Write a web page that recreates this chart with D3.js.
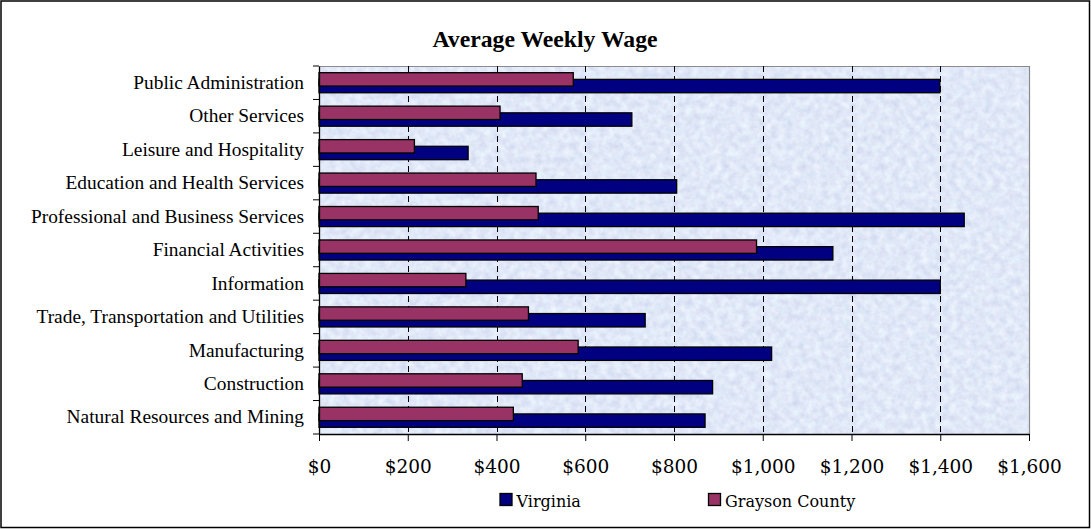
<!DOCTYPE html>
<html>
<head>
<meta charset="utf-8">
<script src="https://cdn.jsdelivr.net/npm/d3@7"></script>
<style>
  html, body { margin: 0; padding: 0; background: #ffffff; }
  svg { display: block; }
</style>
</head>
<body>
<svg id="chart" width="1091" height="529"></svg>
<script>
// Industry categories, listed top to bottom
const categories = [
  "Public Administration",
  "Other Services",
  "Leisure and Hospitality",
  "Education and Health Services",
  "Professional and Business Services",
  "Financial Activities",
  "Information",
  "Trade, Transportation and Utilities",
  "Manufacturing",
  "Construction",
  "Natural Resources and Mining"
];

// Average weekly wage, dollars
const virginia = [1399, 705, 336, 806, 1454, 1158, 1400, 735, 1020, 887, 870];
const grayson  = [573, 408, 215, 489, 494, 986, 331, 472, 584, 458, 438];

const xTicks = [0, 200, 400, 600, 800, 1000, 1200, 1400, 1600];
const seriesNames = ["Virginia", "Grayson County"];

const W = 1091, H = 529;
const plot = { left: 319, right: 1029, top: 66, bottom: 434 };
const colors = { virginia: "#000080", grayson: "#993366" };

const svg = d3.select("#chart");

// Outer frame
svg.append("rect")
  .attr("x", 1).attr("y", 1)
  .attr("width", W - 2.5).attr("height", H - 2.5)
  .attr("fill", "#ffffff").attr("stroke", "#000").attr("stroke-width", 1.5);

// Paper-like texture for the plot background
const defs = svg.append("defs");
const f = defs.append("filter").attr("id", "paper")
  .attr("x", 0).attr("y", 0).attr("width", 1).attr("height", 1)
  .attr("filterUnits", "objectBoundingBox")
  .attr("color-interpolation-filters", "sRGB");
f.append("feTurbulence")
  .attr("type", "fractalNoise").attr("baseFrequency", 0.14)
  .attr("numOctaves", 4).attr("seed", 7).attr("result", "noise");
f.append("feColorMatrix").attr("in", "noise").attr("type", "matrix")
  .attr("values",
    "0.15 0.05 0 0 0.78 " +
    "0.15 0 0 0 0.835 " +
    "0.08 0 0 0 0.93 " +
    "0 0 0 0 1")
  .attr("result", "tint");
f.append("feComposite").attr("in", "tint").attr("in2", "SourceAlpha").attr("operator", "in");

const x = d3.scaleLinear().domain([0, 1600]).range([plot.left, plot.right]);
const y = d3.scaleBand().domain(categories).range([plot.top, plot.bottom]).padding(0);
const bw = y.bandwidth();
const barH = bw / 2.5;   // 100% gap width, 50% overlap

svg.append("rect")
  .attr("x", plot.left).attr("y", plot.top)
  .attr("width", plot.right - plot.left).attr("height", plot.bottom - plot.top)
  .attr("fill", "#dde9f7").attr("filter", "url(#paper)");

// Plot area border (top / right)
svg.append("path")
  .attr("d", `M${plot.left},${plot.top + 0.5}H${plot.right + 0.5}V${plot.bottom}`)
  .attr("fill", "none").attr("stroke", "#8a8a8a").attr("stroke-width", 1.2);

// Dashed vertical gridlines
svg.append("g").selectAll("line")
  .data(xTicks.filter(d => d > 0 && d < 1600))
  .join("line")
  .attr("x1", d => Math.round(x(d)) + 0.5).attr("x2", d => Math.round(x(d)) + 0.5)
  .attr("y1", plot.top).attr("y2", plot.bottom)
  .attr("stroke", "#000").attr("stroke-width", 1)
  .attr("stroke-dasharray", "6,4");

// Bars: Virginia lower in each group, Grayson County above and drawn on top
const rows = categories.map((c, i) => ({ cat: c, va: virginia[i], gc: grayson[i] }));

svg.append("g").selectAll("rect")
  .data(rows).join("rect")
  .attr("x", x(0))
  .attr("y", d => y(d.cat) + barH)
  .attr("width", d => x(d.va) - x(0))
  .attr("height", barH)
  .attr("fill", colors.virginia)
  .attr("stroke", "#000").attr("stroke-width", 1.3);

svg.append("g").selectAll("rect")
  .data(rows).join("rect")
  .attr("x", x(0))
  .attr("y", d => y(d.cat) + barH * 0.5)
  .attr("width", d => x(d.gc) - x(0))
  .attr("height", barH)
  .attr("fill", colors.grayson)
  .attr("stroke", "#000").attr("stroke-width", 1.3);

// X axis
const xAxis = svg.append("g")
  .attr("transform", `translate(0,${plot.bottom})`)
  .call(d3.axisBottom(x).tickValues(xTicks).tickSizeInner(7).tickSizeOuter(0)
    .tickFormat(d => "$" + d3.format(",")(d)));
xAxis.select(".domain").attr("stroke", "#000").attr("stroke-width", 1.3);
xAxis.selectAll(".tick line").attr("stroke", "#000").attr("stroke-width", 1);
xAxis.selectAll(".tick text")
  .attr("y", 39).attr("dy", 0)
  .attr("fill", "#000")
  .style("font-family", "'DejaVu Serif', serif")
  .style("font-size", "18.5px");

// Y axis: labels centred in each band, ticks at band boundaries
const yAxis = svg.append("g")
  .attr("transform", `translate(${plot.left},0)`)
  .call(d3.axisLeft(y).tickSize(0).tickPadding(15));
yAxis.select(".domain").attr("stroke", "#000").attr("stroke-width", 1.3);
yAxis.selectAll(".tick text")
  .attr("dy", "0.32em")
  .attr("fill", "#000")
  .style("font-family", "'Liberation Serif', 'Times New Roman', serif")
  .style("font-size", "19.4px");

const bounds = d3.range(categories.length + 1).map(i => plot.top + i * bw);
svg.append("g").selectAll("line")
  .data(bounds).join("line")
  .attr("x1", plot.left - 6).attr("x2", plot.left)
  .attr("y1", d => d).attr("y2", d => d)
  .attr("stroke", "#000").attr("stroke-width", 1);

// Title
svg.append("text")
  .attr("x", 545).attr("y", 47)
  .attr("text-anchor", "middle")
  .style("font-family", "'Liberation Serif', 'Times New Roman', serif")
  .style("font-weight", "bold")
  .style("font-size", "23.7px")
  .text("Average Weekly Wage");

// Legend
const legend = [
  { name: seriesNames[0], color: colors.virginia, x: 500 },
  { name: seriesNames[1], color: colors.grayson, x: 708.5 }
];
const lg = svg.append("g").selectAll("g").data(legend).join("g")
  .attr("transform", d => `translate(${d.x},493.5)`);
lg.append("rect")
  .attr("width", 12).attr("height", 12)
  .attr("fill", d => d.color).attr("stroke", "#000").attr("stroke-width", 1.3);
lg.append("text")
  .attr("x", 16.5).attr("y", 13)
  .style("font-family", "'DejaVu Serif', serif")
  .style("font-size", "16px")
  .text(d => d.name);
</script>
</body>
</html>
